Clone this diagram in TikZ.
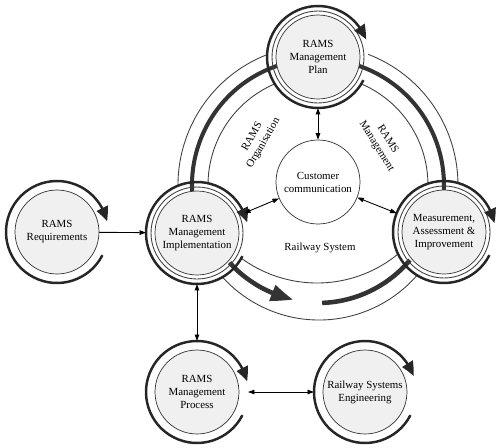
\documentclass[tikz,border=0pt]{standalone}
\usepackage{fontspec}
\setmainfont{Liberation Serif}
\usetikzlibrary{arrows.meta,bending,backgrounds}

\begin{document}
\begin{tikzpicture}[x=0.02cm, y=0.02cm,
txt/.style={font=\fontsize{6.2}{7.4}\selectfont, align=center},
stage/.style={txt, circle, draw=black!80, fill=black!6, thin, minimum size=1.68cm, inner sep=0pt, outer sep=0.18cm},
hub/.style={txt, circle, draw=black!80, fill=white, thin, minimum size=1.68cm, inner sep=0pt},
cyclearc/.style={line width=1.4pt, draw=black!85, -{Triangle[length=0.28cm, width=0.24cm, bend]}},
band/.style={line width=0.5pt, draw=black!75},
spine/.style={line width=2.3pt, draw=black!80},
link/.style={line width=0.5pt, {Triangle[length=0.13cm, width=0.09cm]}-{Triangle[length=0.13cm, width=0.09cm]}},
feed/.style={line width=0.5pt, -{Triangle[length=0.13cm, width=0.09cm]}}
]
    \useasboundingbox (0,0) rectangle (501,-447);

    \node [stage] (req)  at ( 57,-232) {RAMS\\Requirements};
    \node [stage] (plan) at (318, -57) {RAMS\\Management\\Plan};
    \node [stage] (impl) at (197,-233) {RAMS\\Management\\Implementation};
    \node [stage] (meas) at (444,-232) {Measurement,\\Assessment \&\\Improvement};
    \node [stage] (proc) at (197,-392) {RAMS\\Management\\Process};
    \node [stage] (eng)  at (365,-392) {Railway Systems\\Engineering};
    \node [hub]   (cust) at (318,-182) {Customer\\communication};

    \node [txt, rotate=60]  (org)  at (258,-140) {RAMS\\Organisation};
    \node [txt, rotate=-58] (mgmt) at (382,-143) {RAMS\\Management};
    \node [txt]             (rail) at (320,-248) {Railway System};

    \coordinate (ctr)  at (318,-185);
    \coordinate (lowo) at (319,-190);
    \coordinate (lowi) at (317,-155);
    \coordinate (lowt) at (318,-183);

    \begin{scope}[on background layer]
    \foreach \r in {2.2cm,2.8cm}
        \draw [band] ([shift={(202:\r)}]ctr) arc [start angle=202, end angle=-20, radius=\r];
    \draw [band] ([shift={(199:2.6cm)}]lowo) arc [start angle=199, end angle=341, radius=2.6cm];
    \draw [band] ([shift={(205:2.56cm)}]lowi) arc [start angle=205, end angle=335, radius=2.56cm];
    \foreach \n in {plan,impl,meas}
        \fill [white] (\n.center) circle (1cm);
    \draw [spine] ([shift={(202:2.52cm)}]ctr) arc [start angle=202, end angle=-20, radius=2.52cm];
    \draw [spine, line width=2.6pt, -{Triangle[length=0.44cm, width=0.32cm, bend]}]
        ([shift={(222:2.38cm)}]lowt) arc [start angle=222, end angle=258, radius=2.38cm];
    \draw [spine, line width=2.6pt] ([shift={(272:2.4cm)}]lowt) arc [start angle=272, end angle=320, radius=2.4cm];
    \end{scope}

    \foreach \n in {plan,impl,meas}
        \draw [band] (\n.center) circle (0.92cm);
    \foreach \n/\e in {req/12,plan/20,impl/12,meas/10,proc/12,eng/18}
        \draw [cyclearc] ([shift={(-27:1.02cm)}]\n.center) arc [start angle=-27, end angle=\e-360, radius=1.02cm];

    \draw [link] (cust) -- (plan);
    \draw [link] (cust) -- (impl);
    \draw [link] (cust) -- (meas);
    \draw [link] (impl) -- (proc);
    \draw [link] (proc) -- (eng);
    \draw [feed, shorten <=-0.18cm] (req) -- (impl);
\end{tikzpicture}
\end{document}
